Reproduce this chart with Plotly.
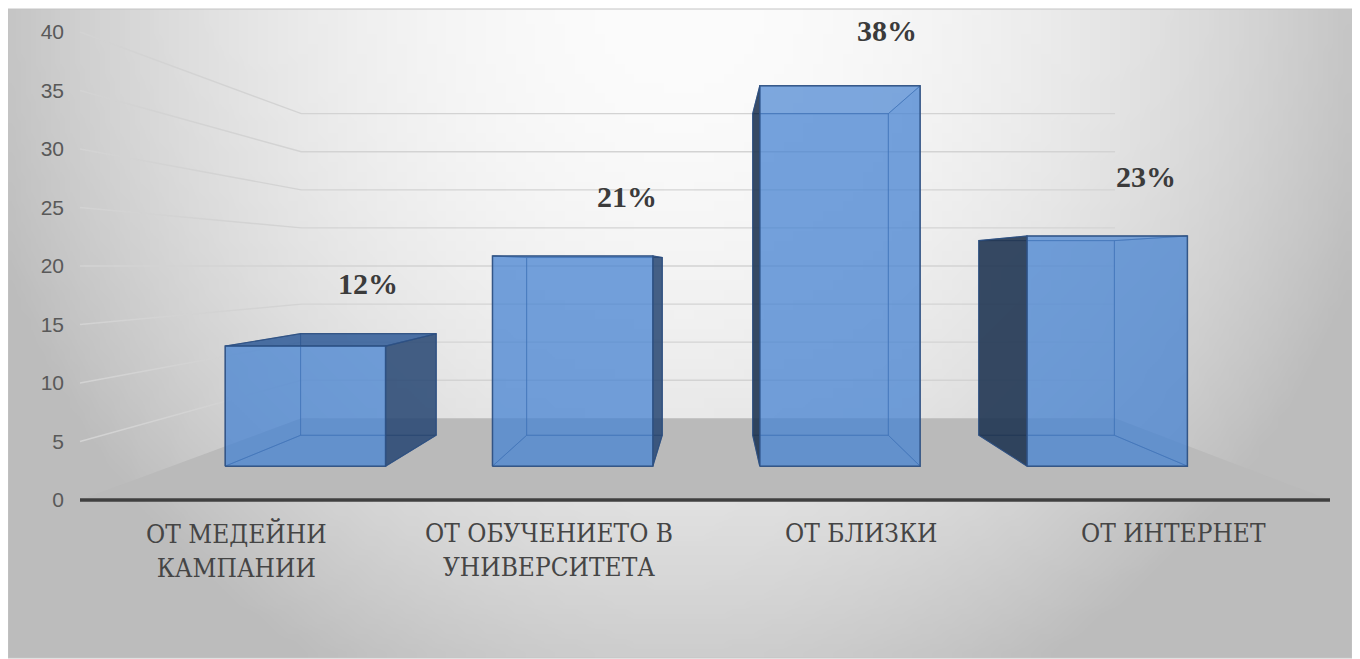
import zlib, struct, base64
import numpy as np
import plotly.graph_objects as go

# ---------------- data ----------------
categories = ["ОТ МЕДЕЙНИ<br>КАМПАНИИ", "ОТ ОБУЧЕНИЕТО В<br>УНИВЕРСИТЕТА", "ОТ БЛИЗКИ", "ОТ ИНТЕРНЕТ"]
values = [12, 21, 38, 23]
label_texts = ["12%", "21%", "38%", "23%"]
y_ticks = [0, 5, 10, 15, 20, 25, 30, 35, 40]

# ---------------- layout / camera parameters ----------------
OFF = 8                     # page body margin
W, H = 1360 - OFF, 659 - OFF
PX_PER_UNIT = 11.7          # front-plane vertical scale
Y0_PX = 500                 # screen row of value 0 on the front plane
FLOOR_L, FLOOR_R = 80, 1330 # front-plane x extent of the floor (screen px)
VX, VV = 714, 20            # vanishing point (x in px units, y in value units)
DEPTH = 0.349               # depth of the back wall (perspective shrink)
T_FRONT, T_BACK = 0.1447, 0.2766
BAR_FRAC = 0.6
LBL_DX, LBL_DV, LBL_T = 61, 6.2, 0.17
FRAME = (6, 9, 1352, 658)   # screen px

y_top = (Y0_PX - OFF) / PX_PER_UNIT
y_bot = y_top - H / PX_PER_UNIT
SERIF = "Liberation Serif, serif"
CAT_FONT = "DejaVu Serif Condensed, DejaVu Serif"


def proj(x0, v, t):
    s = 1 - t
    return VX + (x0 - VX) * s, VV + (v - VV) * s


def sx(px):
    return (px - OFF) / W


def sy(py):
    return 1 - (py - OFF) / H


def png_data_uri():
    w, h = 136, 66
    fx0, fy0, fx1, fy1 = FRAME
    rows = []
    for j in range(h):
        py = fy0 + (fy1 - fy0) * (j + 0.5) / h
        row = bytearray()
        for i in range(w):
            px = fx0 + (fx1 - fx0) * (i + 0.5) / w
            r = np.hypot((px - 680) / 680.0, (py - 0) / 720.0)
            c = 252 - 56 * r ** 2.0
            c = int(max(188, min(252, c)))
            row.append(c)
        rows.append(b"\x00" + bytes(row))
    raw = b"".join(rows)

    def chunk(t, d):
        return struct.pack(">I", len(d)) + t + d + struct.pack(">I", zlib.crc32(t + d) & 0xFFFFFFFF)

    ihdr = struct.pack(">IIBBBBB", w, h, 8, 0, 0, 0, 0)
    png = b"\x89PNG\r\n\x1a\n" + chunk(b"IHDR", ihdr) + chunk(b"IDAT", zlib.compress(raw, 9)) + chunk(b"IEND", b"")
    return "data:image/png;base64," + base64.b64encode(png).decode()


fig = go.Figure()


def poly(pts, fill, line_color="rgba(0,0,0,0)", lw=0.0):
    xs = [p[0] for p in pts] + [pts[0][0]]
    ys = [p[1] for p in pts] + [pts[0][1]]
    fig.add_trace(go.Scatter(x=xs, y=ys, mode="lines", fill="toself", fillcolor=fill,
                             line=dict(color=line_color, width=lw), hoverinfo="skip",
                             showlegend=False))


def line(pts, color, width):
    fig.add_trace(go.Scatter(x=[p[0] for p in pts], y=[p[1] for p in pts], mode="lines",
                             line=dict(color=color, width=width), hoverinfo="skip",
                             showlegend=False))


for v in y_ticks[1:]:
    line([proj(FLOOR_L, v, 0), proj(FLOOR_L, v, DEPTH), proj(FLOOR_R, v, DEPTH)], "#d3d3d3", 1.4)

poly([proj(FLOOR_L, 0, 0), proj(FLOOR_R, 0, 0), proj(FLOOR_R, 0, DEPTH), proj(FLOOR_L, 0, DEPTH)], "#bababa")
line([proj(FLOOR_L, 0, 0), proj(FLOOR_R, 0, 0)], "#404040", 3.5)

n = len(values)
cat_w = (FLOOR_R - FLOOR_L) / n
centers = [FLOOR_L + cat_w * (i + 0.5) for i in range(n)]
BASE = "70,130,210"
EDGE = "rgba(45,80,130,0.9)"
EDGE_IN = "rgba(45,80,130,0.55)"

for c, val in zip(centers, values):
    xl, xr = c - cat_w * BAR_FRAC / 2, c + cat_w * BAR_FRAC / 2
    FLB, FRB = proj(xl, 0, T_FRONT), proj(xr, 0, T_FRONT)
    FLT, FRT = proj(xl, val, T_FRONT), proj(xr, val, T_FRONT)
    BLB, BRB = proj(xl, 0, T_BACK), proj(xr, 0, T_BACK)
    BLT, BRT = proj(xl, val, T_BACK), proj(xr, val, T_BACK)
    left_vis = xl > VX
    right_vis = xr < VX
    top_vis = val < VV
    hidden_fill = f"rgba({BASE},0.25)"
    poly([BLB, BRB, BRT, BLT], hidden_fill, EDGE_IN, 1)
    poly([FLB, FRB, BRB, BLB], hidden_fill, EDGE_IN, 1)
    if not left_vis:
        poly([FLB, BLB, BLT, FLT], hidden_fill, EDGE_IN, 1)
    if not right_vis:
        poly([FRB, BRB, BRT, FRT], hidden_fill, EDGE_IN, 1)
    if not top_vis:
        poly([FLT, FRT, BRT, BLT], f"rgba({BASE},0.1)", EDGE_IN, 1)
    if left_vis:
        poly([FLB, BLB, BLT, FLT], "rgba(28,48,75,0.85)", EDGE, 1.2)
    if right_vis:
        poly([FRB, BRB, BRT, FRT], "rgba(35,65,108,0.8)", EDGE, 1.2)
    if top_vis:
        poly([FLT, FRT, BRT, BLT], "rgba(45,88,148,0.8)", EDGE, 1.2)
    poly([FLB, FRB, FRT, FLT], f"rgba({BASE},0.66)", EDGE, 1.5)

annotations = []
for c, val, txt in zip(centers, values, label_texts):
    lx, ly = proj(c + LBL_DX, val + LBL_DV, LBL_T)
    annotations.append(dict(x=lx, y=ly, xref="x", yref="y", text=txt, showarrow=False,
                            xanchor="center", yanchor="middle",
                            font=dict(family=SERIF, size=30, color="#3b3b3b", weight="bold")))

for c, cat in zip(centers, categories):
    annotations.append(dict(x=c, y=0, xref="x", yref="y", text=cat, showarrow=False,
                            xanchor="center", yanchor="top", yshift=-16, align="center",
                            font=dict(family=CAT_FONT, size=26, color="#454545")))

fig.update_layout(
    width=W, height=H,
    margin=dict(l=0, r=0, t=0, b=0),
    paper_bgcolor="white",
    plot_bgcolor="rgba(0,0,0,0)",
    showlegend=False,
    xaxis=dict(range=[OFF, OFF + W], visible=False, fixedrange=True),
    yaxis=dict(range=[y_bot, y_top], anchor="free", position=sx(64),
               tickvals=y_ticks, ticktext=[str(t) for t in y_ticks],
               showgrid=False, zeroline=False, showline=False, ticks="",
               tickfont=dict(family="Liberation Sans", size=21, color="#595959"),
               automargin=False, fixedrange=True),
    images=[dict(source=png_data_uri(), xref="paper", yref="paper",
                 x=sx(FRAME[0]), y=sy(FRAME[1]), sizex=(FRAME[2] - FRAME[0]) / W,
                 sizey=(FRAME[3] - FRAME[1]) / H,
                 xanchor="left", yanchor="top", sizing="stretch", layer="below")],
    shapes=[dict(type="rect", xref="paper", yref="paper", x0=max(0, sx(FRAME[0])), x1=sx(FRAME[2]),
                 y0=sy(FRAME[3]), y1=sy(FRAME[1]), line=dict(color="#c4c4c4", width=1))],
    annotations=annotations,
)

fig.write_html("out.html")
